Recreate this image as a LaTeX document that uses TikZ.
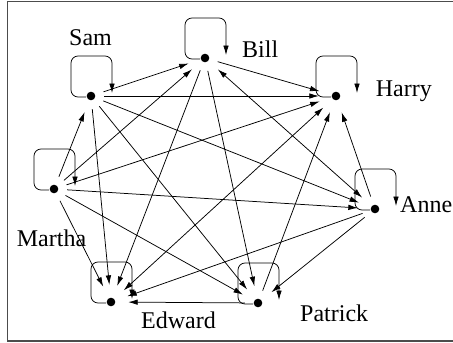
\documentclass[tikz,border=0pt]{standalone}
\usepackage{fontspec}
\setmainfont{Liberation Serif}
\usetikzlibrary{arrows.meta,calc}
\begin{document}
\begin{tikzpicture}[x=1pt,y=-1pt,
  vert/.style={circle,minimum size=26pt,inner sep=0pt,
    path picture={\fill (path picture bounding box.center) circle (4.3pt);}},
  arr/.style={-{Latex[length=9.5pt,width=5.5pt]},line width=0.75pt,shorten >=4pt},
  both/.style={{Latex[length=9.5pt,width=5.5pt]}-{Latex[length=9.5pt,width=5.5pt]},line width=0.75pt,shorten >=4pt,shorten <=4pt},
  selfloop/.style={-{Latex[length=9.5pt,width=5.5pt]},line width=0.75pt,rounded corners=7pt},
  lbl/.style={font=\fontsize{24}{28}\selectfont,anchor=base west,inner sep=0pt},
  frame/.style={draw=black!70,line width=1.2pt}]
\useasboundingbox (0,0) rectangle (453,343);
\draw[frame] (470,1.5) -- (7.5,1.5) -- (7.5,341) -- (470,341);
% vertices
\node[vert] (S) at (91,96) {};
\node[vert] (B) at (205,58) {};
\node[vert] (H) at (336,96) {};
\node[vert] (A) at (375,209) {};
\node[vert] (P) at (258,303) {};
\node[vert] (E) at (111,302) {};
\node[vert] (M) at (54,189) {};
% labels
\node[lbl] (tS) at (69,45.7) {Sam};
\node[lbl] (tB) at (242,57.7) {Bill};
\node[lbl] (tH) at (375.7,96) {Harry};
\node[lbl] (tA) at (400,212.3) {Anne};
\node[lbl] (tP) at (300,321) {Patrick};
\node[lbl] (tE) at (141,328) {Edward};
\node[lbl] (tM) at (16.7,246) {Martha};
% self loops
\foreach \n in {S,B,H,A,P,E,M}
  \draw[selfloop] ($(\n.center)+(-5,1)$) -| ++(-15,-41) -| ++(41,37);
% edges
\draw[arr] (S) -- (B);
\draw[arr] (S) -- (H);
\draw[arr] (S) -- (A);
\draw[arr] (S) -- (P);
\draw[arr] (S) -- (E);
\draw[arr] (M) -- (S);
\draw[arr] (B) -- (H);
\draw[arr] (M) -- (B);
\draw[both] (A) -- (B);
\draw[arr] (B) -- (E);
\draw[arr] (B) -- (P);
\draw[arr] (M) -- (H);
\draw[both] (E) -- (H);
\draw[arr] (P) -- (H);
\draw[arr] (A) -- (H);
\draw[arr] (M) -- (A);
\draw[arr] (A) -- (E);
\draw[arr] (A) -- (P);
\draw[arr] (M) -- (P);
\draw[arr] (M) -- (E);
\draw[arr] (P) -- (E);
\end{tikzpicture}
\end{document}
